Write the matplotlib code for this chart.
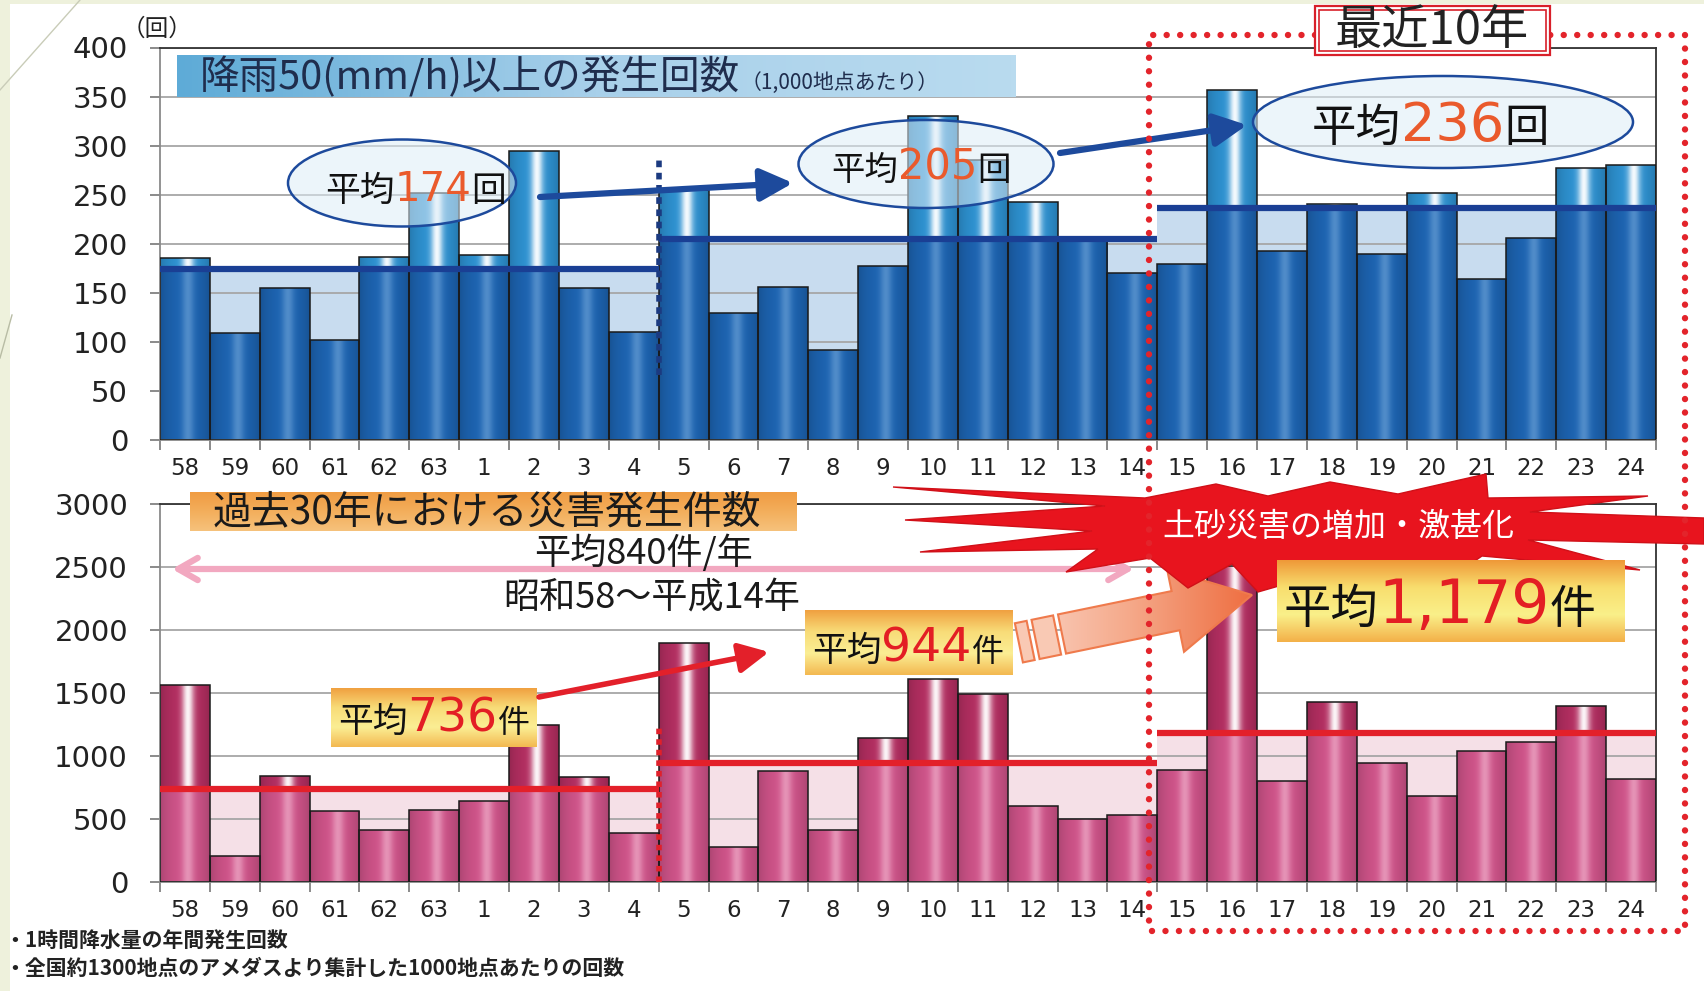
import numpy as np
import matplotlib
matplotlib.use("Agg")
import matplotlib.pyplot as plt
from matplotlib.patches import Rectangle, Ellipse, Polygon
from matplotlib.lines import Line2D
from matplotlib.colors import to_rgb, LinearSegmentedColormap

JP = ['Noto Sans CJK JP', 'DejaVu Sans']
NUM = ['DejaVu Sans']
plt.rcParams['font.family'] = ['DejaVu Sans', 'Noto Sans CJK JP']

# ---------------- data ----------------
years = ['58', '59', '60', '61', '62', '63', '1', '2', '3', '4',
         '5', '6', '7', '8', '9', '10', '11', '12', '13', '14',
         '15', '16', '17', '18', '19', '20', '21', '22', '23', '24']
rain = [185, 109, 155, 102, 187, 252, 189, 295, 155, 110,
        255, 129, 156, 92, 177, 330, 285, 243, 204, 170,
        179, 357, 193, 241, 190, 252, 164, 206, 277, 280]
disaster = [1560, 210, 840, 560, 410, 570, 645, 1250, 830, 390,
            1900, 280, 880, 410, 1145, 1615, 1490, 600, 500, 530,
            885, 2510, 800, 1430, 945, 680, 1040, 1110, 1400, 820]
periods = [(0, 10), (10, 20), (20, 30)]
rain_avg = [174, 205, 236]
disaster_avg = [736, 944, 1179]

W, H = 1704, 991
fig = plt.figure(figsize=(W / 100, H / 100), dpi=100, facecolor='#eef1dc')
fig.add_artist(Rectangle((10 / W, 0), 1, 1 - 4 / H, transform=fig.transFigure,
                         facecolor='white', edgecolor='none', zorder=-1))
fig.add_artist(Line2D([0, 80 / W], [1 - 90 / H, 1], transform=fig.transFigure,
                      color='#c9ccb8', lw=1, zorder=-0.5))
fig.add_artist(Line2D([0, 12 / W], [1 - 358 / H, 1 - 315 / H], transform=fig.transFigure,
                      color='#b8bca4', lw=1, zorder=-0.5))

ax1 = fig.add_axes([160 / W, 1 - 440 / H, 1496 / W, 392.5 / H])
ax2 = fig.add_axes([160 / W, 1 - 882 / H, 1496 / W, 378 / H])


def bar_row(base, hi, strength, n=90):
    t = np.linspace(0, 1, n)
    h = strength * np.exp(-((t - 0.56) / 0.12) ** 2)
    edge = 0.80 + 0.20 * np.sin(np.pi * t) ** 0.6
    rgb = np.array(to_rgb(base))[None, :] * edge[:, None]
    rgb = rgb * (1 - h[:, None]) + np.array(to_rgb(hi))[None, :] * h[:, None]
    return np.clip(rgb[None, :, :], 0, 1)


def panel(ax, vals, avgs, ymax, step, low, high, shade, line_col):
    x = np.arange(len(vals))
    ax.set_facecolor('none')
    ax.set_axisbelow(True)
    ax.yaxis.grid(True, color='#a6a6a6', lw=1.3)
    bars = ax.bar(x, vals, width=1.0, color=low[0], edgecolor='none', zorder=2)
    img_low = bar_row(*low)
    img_high = bar_row(*high)
    for (a, b), m in zip(periods, avgs):
        ax.fill_between([a - 0.5, b - 0.5], 0, m, facecolor=shade, edgecolor='none',
                        lw=0, zorder=0.2)
        for i in range(a, b):
            v = vals[i]
            im = ax.imshow(img_low, extent=(i - 0.5, i + 0.5, 0, min(v, m)), aspect='auto',
                           interpolation='bilinear', zorder=2.1)
            im.set_clip_path(bars[i])
            if v > m:
                im = ax.imshow(img_high, extent=(i - 0.5, i + 0.5, m, v), aspect='auto',
                               interpolation='bilinear', zorder=2.1)
                im.set_clip_path(bars[i])
        ax.plot([a - 0.5, b - 0.5], [m, m], color=line_col, lw=4.5, zorder=4,
                solid_capstyle='butt')
    ax.bar(x, vals, width=1.0, fill=False, edgecolor='#1a1a1a', lw=1.1, zorder=3)

    ax.set_xlim(-0.5, len(vals) - 0.5)
    ax.set_ylim(0, ymax)
    ax.set_xticks(x)
    ax.set_xticklabels(years, fontsize=16.5, color='#222')
    ax.set_xticks(np.arange(-0.5, len(vals), 1), minor=True)
    ax.tick_params(axis='x', which='major', length=0, pad=12)
    ax.tick_params(axis='x', which='minor', length=7, color='#777', width=1.2)
    ax.set_yticks(np.arange(0, ymax + 1, step))
    ax.tick_params(axis='y', length=7, width=1.2, color='#777', pad=16, labelsize=21,
                   labelcolor='#222')
    for s in ['left', 'bottom']:
        ax.spines[s].set_color('#8a8a8a')
        ax.spines[s].set_linewidth(1.3)
    for s in ['top', 'right']:
        ax.spines[s].set_color('#333333')
        ax.spines[s].set_linewidth(1.3)


panel(ax1, rain, rain_avg, 400, 50,
      low=('#1d64b2', '#8fbde6', 0.45), high=('#2e93d3', '#ffffff', 0.95),
      shade='#c8dcef', line_col='#1a3f94')
panel(ax2, disaster, disaster_avg, 3000, 500,
      low=('#d0548a', '#f7c6da', 0.55), high=('#b52f62', '#ffffff', 0.95),
      shade='#f5e0e7', line_col='#e3202a')

# period separators
ax1.plot([9.5, 9.5], [66, 288], color='#1b3a80', lw=4, ls=(0, (1.2, 1.0)), zorder=5)
ax2.plot([9.5, 9.5], [0, 1250], color='#e0202a', lw=4, ls=(0, (1.0, 0.9)), zorder=5)

# ---------------- overlay in pixel coordinates ----------------
ov = fig.add_axes([0, 0, 1, 1], zorder=5)
ov.patch.set_alpha(0)
ov.axis('off')


def gradient(patch, colors, extent, horizontal=False):
    cmap = LinearSegmentedColormap.from_list('g', colors)
    arr = np.linspace(0, 1, 256)
    arr = arr[None, :] if horizontal else arr[:, None]
    im = ov.imshow(arr, cmap=cmap, extent=extent, aspect='auto', interpolation='bicubic',
                   zorder=patch.get_zorder() - 0.05)
    im.set_clip_path(patch)


def box(x0, y0, x1, y1, colors, horizontal=False, edge='none', zorder=3):
    p = Rectangle((x0, y0), x1 - x0, y1 - y0, facecolor='none', edgecolor=edge, lw=1,
                  zorder=zorder)
    ov.add_patch(p)
    gradient(p, colors, (x0, x1, y1, y0), horizontal)
    return p


def rich(x, y, parts, zorder=6):
    t = None
    for s, size, col, fam in parts:
        kw = dict(fontsize=size, color=col, family=fam, va='baseline', ha='left', zorder=zorder)
        if t is None:
            t = ov.text(x, y, s, **kw)
        else:
            t = ov.annotate(s, xy=(1, y), xycoords=(t, 'data'), **kw)
    return t


# unit label
ov.text(122, 29, '（回）', fontsize=17, family=JP, va='center', ha='left', color='#222')

# top title
box(177, 55, 1016, 97, ['#5eabd7', '#a8d0ea', '#b9dbef'], horizontal=True)
rich(200, 89, [('降雨50(mm/h)以上の発生回数', 28.5, '#1f2d4d', JP),
               ('（1,000地点あたり）', 15, '#1f2d4d', JP)])

# average ellipses (rain)
navy = '#1d4a9c'
for (cx, cy, w, h) in [(402, 183, 228, 87), (926, 164, 255, 88), (1443, 122, 380, 92)]:
    ov.add_patch(Ellipse((cx, cy), w, h, facecolor=(0.87, 0.93, 0.97, 0.55),
                         edgecolor=navy, lw=1.8, zorder=3))
orange_num = '#ea5a2c'
rich(325, 201, [('平均', 25, '#111', JP), ('174', 29, orange_num, NUM), ('回', 25, '#111', JP)])
rich(831, 180, [('平均', 24, '#111', JP), ('205', 30, orange_num, NUM), ('回', 24, '#111', JP)])
rich(1312, 141, [('平均', 32, '#111', JP), ('236', 39, orange_num, NUM), ('回', 32, '#111', JP)])

arrow_kw = dict(arrowstyle='-|>,head_length=0.9,head_width=0.45', lw=4.5, color=navy,
                mutation_scale=22, shrinkA=0, shrinkB=0)
ov.annotate('', xy=(793, 183), xytext=(540, 197), arrowprops=arrow_kw, zorder=4)
ov.annotate('', xy=(1247, 125), xytext=(1060, 153), arrowprops=arrow_kw, zorder=4)

# bottom title and 30-year average
box(190, 492, 797, 531, ['#f09c42', '#f3ae5c', '#f6c27c'])
ov.text(213, 512, '過去30年における災害発生件数', fontsize=28, family=JP, va='center',
        ha='left', color='#1a1a1a', zorder=6)
ov.text(643, 553, '平均840件/年', fontsize=26, family=JP, va='center', ha='center',
        color='#1a1a1a', zorder=6)
ov.text(652, 598, '昭和58～平成14年', fontsize=26, family=JP, va='center', ha='center',
        color='#1a1a1a', zorder=6)
ov.annotate('', xy=(172, 569), xytext=(1134, 569), zorder=4,
            arrowprops=dict(arrowstyle='<->,head_length=0.7,head_width=0.4', lw=4.5,
                            color='#f2a8c0', mutation_scale=20, shrinkA=0, shrinkB=0))

# average boxes (disasters)
yellow_box = ['#f0a040', '#f8dc78', '#fbee94', '#f3b850']
red_num = '#e31e24'
box(331, 688, 537, 747, yellow_box)
rich(338, 732, [('平均', 25, '#111', JP), ('736', 34, red_num, NUM), ('件', 23, '#111', JP)])
box(805, 610, 1013, 675, yellow_box)
rich(812, 661, [('平均', 25, '#111', JP), ('944', 34, red_num, NUM), ('件', 23, '#111', JP)])

ov.annotate('', xy=(769, 652), xytext=(539, 697), zorder=4,
            arrowprops=dict(arrowstyle='-|>,head_length=0.9,head_width=0.45', lw=4,
                            color='#e3202a', mutation_scale=20, shrinkA=0, shrinkB=0))

# broad arrow towards the recent decade
tail = np.array([1062.0, 634.0])
tip = np.array([1252.0, 595.0])
u = (tip - tail) / np.linalg.norm(tip - tail)
n = np.array([-u[1], u[0]])
base = tip - u * 78
shaft, head = 20, 42
arrow_pts = [tail + n * shaft, base + n * shaft, base + n * head, tip,
             base - n * head, base - n * shaft, tail - n * shaft]
fat = Polygon(arrow_pts, closed=True, facecolor='none', edgecolor='#ef7a4c', lw=1.5, zorder=3)
ov.add_patch(fat)
gradient(fat, ['#fbd9cc', '#f5a98a', '#ee6a3c'], (1000, 1260, 690, 545), horizontal=True)
for d0, d1 in [(-44, -32), (-27, -5)]:
    pts = [tail + u * d0 + n * shaft, tail + u * d1 + n * shaft,
           tail + u * d1 - n * shaft, tail + u * d0 - n * shaft]
    ov.add_patch(Polygon(pts, closed=True, facecolor='#f9c9b4', edgecolor='#ef7a4c', lw=1.5,
                         zorder=3))

# burst banner
burst = [(905, 520), (1105, 506), (893, 487), (1145, 498), (1216, 484), (1268, 496),
         (1330, 482), (1398, 494), (1486, 474), (1488, 498), (1648, 496), (1530, 512),
         (1704, 518), (1704, 544), (1528, 540), (1640, 570), (1482, 556), (1444, 582),
         (1362, 562), (1258, 592), (1232, 564), (1188, 588), (1150, 558), (1066, 572),
         (1098, 549), (920, 552), (1092, 531)]
ov.add_patch(Polygon(burst, closed=True, facecolor='#e8141e', edgecolor='#d01018', lw=1,
                     zorder=4.5))
ov.text(1338, 527, '土砂災害の増加・激甚化', fontsize=23, family=JP, va='center', ha='center',
        color='white', zorder=6)

box(1277, 560, 1625, 642, ['#ef9838', '#f8de6e', '#faf08a', '#f3b048'], zorder=4.6)
rich(1284, 623, [('平均', 34, '#111', JP), ('1,179', 43, red_num, NUM), ('件', 33, '#111', JP)],
     zorder=7)

# recent ten years frame
ov.plot([1315, 1149, 1149, 1685, 1685, 1550], [35, 35, 931, 931, 35, 35], color='#e3242b',
        lw=4.6, ls=(0, (0.01, 2.1)), dash_capstyle='round', zorder=5)
outer = Rectangle((1315, 6), 235, 49, facecolor='white', edgecolor='#d8202a', lw=1.6, zorder=5.5)
inner = Rectangle((1319, 10), 227, 41, facecolor='none', edgecolor='#d8202a', lw=1.2, zorder=5.6)
ov.add_patch(outer)
ov.add_patch(inner)
ov.text(1432, 31, '最近10年', fontsize=34, family=JP, va='center', ha='center',
        color='#222', zorder=6)

# footnotes
ov.text(4, 941, '・1時間降水量の年間発生回数', fontsize=15, family=JP, fontweight='bold',
        va='center', ha='left', color='#222')
ov.text(4, 968, '・全国約1300地点のアメダスより集計した1000地点あたりの回数', fontsize=15,
        family=JP, fontweight='bold', va='center', ha='left', color='#222')

ov.set_xlim(0, W)
ov.set_ylim(H, 0)

fig.savefig('out.png', dpi=100, facecolor=fig.get_facecolor())
